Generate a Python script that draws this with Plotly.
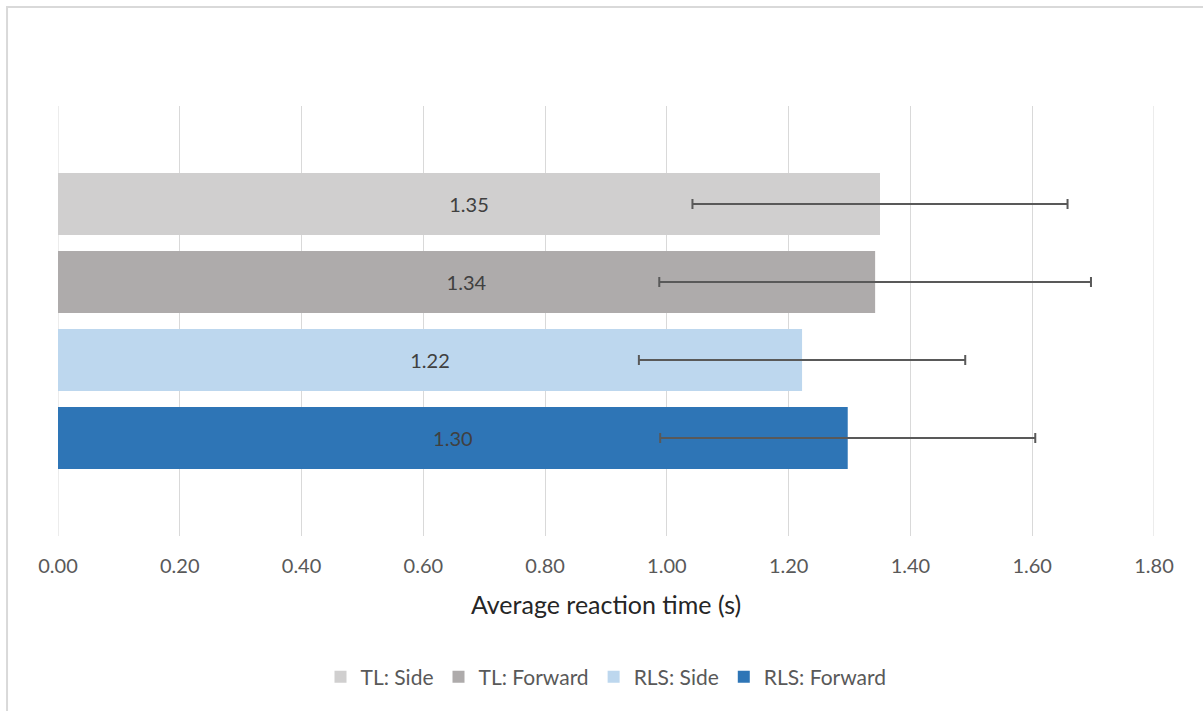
import plotly.graph_objects as go

series = ["TL: Side", "TL: Forward", "RLS: Side", "RLS: Forward"]
values = [1.35, 1.342, 1.222, 1.297]
errors = [0.308, 0.3545, 0.268, 0.308]
colors = ["#d0cfcf", "#aeabab", "#bdd7ee", "#2e75b6"]
category = ["All"]
x_ticks = [0.0, 0.2, 0.4, 0.6, 0.8, 1.0, 1.2, 1.4, 1.6, 1.8]

FONT = "Lato, 'Open Sans', sans-serif"

fig = go.Figure()
for name, v, e, c in zip(series, values, errors, colors):
    fig.add_trace(go.Bar(
        name=name, y=category, x=[v], orientation="h",
        marker=dict(color=c, line=dict(width=0)),
        error_x=dict(type="data", array=[e], visible=True, color="#595959",
                     thickness=2, width=5),
        texttemplate="%{x:.2f}", textposition="inside",
        insidetextanchor="middle",
        textfont=dict(color="#404040", size=20, family=FONT),
    ))

fig.update_layout(
    width=1203, height=711,
    paper_bgcolor="white", plot_bgcolor="white",
    margin=dict(l=58, r=49, t=106, b=175),
    barmode="group", bargap=0.274, bargroupgap=0.205,
    font=dict(family=FONT, color="#595959"),
    showlegend=True,
    legend=dict(orientation="h", x=0.5, xanchor="center", y=-0.328,
                yanchor="middle", font=dict(size=21, color="#595959"),
                traceorder="normal"),
    xaxis=dict(range=[0, 1.8], tickvals=x_ticks,
               ticktext=[f"{t:.2f}" for t in x_ticks],
               showgrid=True, gridcolor="#d9d9d9", gridwidth=1,
               zeroline=False, showline=False, ticks="",
               ticklabelstandoff=16,
               tickfont=dict(size=20, color="#595959"),
               title=dict(text="Average reaction time (s)",
                          font=dict(size=25, color="#262626"), standoff=20)),
    yaxis=dict(autorange="reversed", showticklabels=False, showgrid=False,
               zeroline=False, showline=False, ticks=""),
    shapes=[
        dict(type="rect", xref="paper", yref="paper",
             x0=-0.0465, x1=1.2, y0=-0.6, y1=1.230,
             line=dict(color="#d9d9d9", width=2), layer="below"),
        dict(type="line", xref="x", yref="paper", x0=x_ticks[0], x1=x_ticks[0],
             y0=0, y1=1, line=dict(color="#d9d9d9", width=1), layer="below"),
        dict(type="line", xref="x", yref="paper", x0=x_ticks[-1], x1=x_ticks[-1],
             y0=0, y1=1, line=dict(color="#d9d9d9", width=1), layer="below"),
    ],
)

fig.write_html("out.html", config={"displayModeBar": False},
               post_script="document.body.style.margin='0';")
